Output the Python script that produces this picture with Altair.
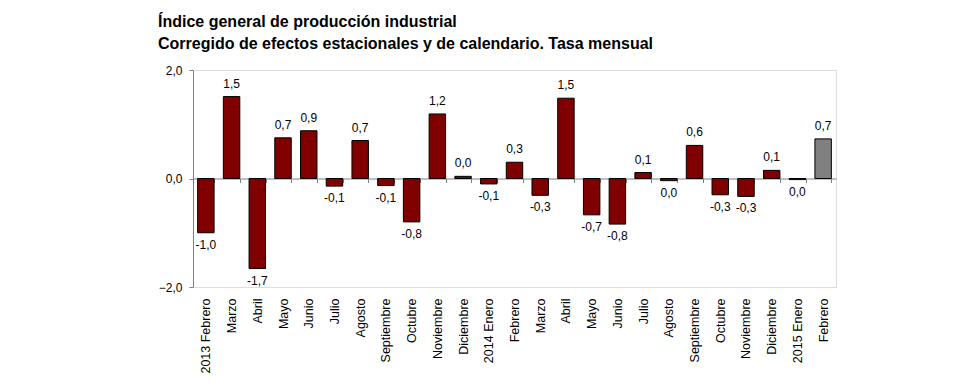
import altair as alt
import pandas as pd

meses = ["2013 Febrero", "Marzo", "Abril", "Mayo", "Junio", "Julio", "Agosto",
         "Septiembre", "Octubre", "Noviembre", "Diciembre", "2014 Enero",
         "Febrero", "Marzo", "Abril", "Mayo", "Junio", "Julio", "Agosto",
         "Septiembre", "Octubre", "Noviembre", "Diciembre", "2015 Enero", "Febrero"]
valores = [-1.00, 1.51, -1.66, 0.75, 0.88, -0.14, 0.70, -0.13, -0.80, 1.19, 0.04, -0.10,
           0.30, -0.31, 1.48, -0.67, -0.84, 0.11, -0.04, 0.61, -0.30, -0.33, 0.15, -0.02, 0.73]
etiquetas = ["-1,0", "1,5", "-1,7", "0,7", "0,9", "-0,1", "0,7", "-0,1", "-0,8", "1,2",
             "0,0", "-0,1", "0,3", "-0,3", "1,5", "-0,7", "-0,8", "0,1", "0,0", "0,6",
             "-0,3", "-0,3", "0,1", "0,0", "0,7"]
tipo = ["serie"] * 24 + ["ultimo"]
titulo = ["Índice general de producción industrial",
          "Corregido de efectos estacionales y de calendario. Tasa mensual"]

df = pd.DataFrame({"idx": list(range(len(meses))), "valor": valores,
                   "etiqueta": etiquetas, "tipo": tipo})

W, H = 643, 217
FONT = "Liberation Sans"
label_expr = "[" + ",".join("'" + m + "'" for m in meses) + "][datum.value]"

x_enc = alt.X("idx:O", sort=None,
              scale=alt.Scale(paddingInner=0.36, paddingOuter=0.18),
              axis=alt.Axis(title=None, orient="bottom", offset=-H / 2,
                            labelPadding=H / 2 + 7, labelAngle=-90, labelExpr=label_expr,
                            labelFontSize=12.5, labelFont=FONT, labelColor="black",
                            tickBand="extent", tickSize=4, tickColor="#808080",
                            domainColor="#808080", domainWidth=1))
y_scale = alt.Scale(domain=[-2, 2], nice=False)

base = alt.Chart(df)

bars = base.mark_bar(stroke="black", strokeWidth=1).encode(
    x=x_enc,
    y=alt.Y("valor:Q", scale=y_scale,
            axis=alt.Axis(title=None, values=[-2, 0, 2], grid=False,
                          labelExpr="replace(format(datum.value, '.1f'), '.', ',')",
                          labelFontSize=12, labelFont=FONT, labelColor="black",
                          tickSize=4, tickColor="#808080", domainColor="#808080",
                          labelPadding=7)),
    color=alt.Color("tipo:N", legend=None,
                    scale=alt.Scale(domain=["serie", "ultimo"], range=["#800000", "#808080"])),
)

pos_text = base.transform_filter("datum.valor >= 0").mark_text(
    baseline="bottom", dy=-6, fontSize=12, font=FONT, color="black"
).encode(x=alt.X("idx:O", sort=None), y=alt.Y("valor:Q", scale=y_scale), text="etiqueta:N")

neg_text = base.transform_filter("datum.valor < 0").mark_text(
    baseline="top", dy=7, fontSize=12, font=FONT, color="black"
).encode(x=alt.X("idx:O", sort=None), y=alt.Y("valor:Q", scale=y_scale), text="etiqueta:N")

chart = alt.layer(bars, pos_text, neg_text).properties(
    width=W, height=H,
    padding={"left": 150, "top": 6, "right": 10, "bottom": 2},
    title=alt.TitleParams(text=titulo, anchor="start", frame="group", dx=-35,
                          fontSize=16, font=FONT, fontWeight="bold", color="black",
                          lineHeight=22, offset=12),
).configure_view(stroke=None).configure(background="white")

chart.save("out.html", embed_options={"renderer": "svg", "actions": False})
